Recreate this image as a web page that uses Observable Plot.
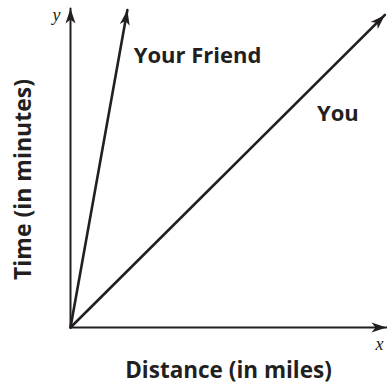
<!DOCTYPE html>
<html>
<head>
<meta charset="utf-8">
<script src="https://cdn.jsdelivr.net/npm/d3@7"></script>
<script src="https://cdn.jsdelivr.net/npm/@observablehq/plot@0.6"></script>
<style>
  html, body { margin: 0; padding: 0; background: #fff; }
  #chart svg { display: block; }
</style>
</head>
<body>
<div id="chart"></div>
<script>
// Data (arbitrary units; the original has no numeric ticks)
const series = ["Your Friend", "You"];
const endX = [1.8, 9.95];
const endY = [9.95, 9.8];
const labelX = [2.0, 7.8];
const labelY = [8.5, 6.7];
const axisMax = 10;
const xTitle = "Distance (in miles)";
const yTitle = "Time (in minutes)";

const ink = "#231f20";

function arrowHead() {
  const m = d3.create("svg:marker")
    .attr("viewBox", "-16 -6 17 12")
    .attr("refX", 0).attr("refY", 0)
    .attr("markerUnits", "userSpaceOnUse")
    .attr("markerWidth", 17).attr("markerHeight", 12)
    .attr("orient", "auto");
  m.append("path")
    .attr("d", "M-15,-5L0,0L-15,5L-11,0Z")
    .attr("fill", ink)
    .attr("stroke", "none");
  return m.node();
}

const lines = [];
series.forEach((s, i) => {
  lines.push({s, x: 0, y: 0});
  lines.push({s, x: endX[i], y: endY[i]});
});
const axes = [
  {a: "x", x: 0, y: 0}, {a: "x", x: axisMax, y: 0},
  {a: "y", x: 0, y: 0}, {a: "y", x: 0, y: axisMax}
];
const labels = series.map((s, i) => ({s, x: labelX[i], y: labelY[i]}));

const plot = Plot.plot({
  width: 387,
  height: 385,
  marginLeft: 70,
  marginRight: 1,
  marginTop: 8,
  marginBottom: 58,
  x: {domain: [0, axisMax], axis: null},
  y: {domain: [0, axisMax], axis: null},
  style: {fontFamily: "'Open Sans', sans-serif", color: ink, background: "#fff"},
  marks: [
    Plot.line(axes, {x: "x", y: "y", z: "a", stroke: ink, strokeWidth: 2, markerEnd: arrowHead}),
    Plot.line(lines, {x: "x", y: "y", z: "s", stroke: ink, strokeWidth: 2.6, markerEnd: arrowHead}),
    Plot.text(labels, {x: "x", y: "y", text: "s", textAnchor: "start", lineAnchor: "middle",
      fontSize: 22, fontWeight: "bold", fill: ink}),
    Plot.text([xTitle], {frameAnchor: "bottom", textAnchor: "middle", lineAnchor: "middle", dy: 43, text: d => d, fontSize: 22.5, fontWeight: "bold", fill: ink}),
    Plot.text([yTitle], {frameAnchor: "left", textAnchor: "middle", lineAnchor: "middle", dx: -47, dy: 11.5, rotate: -90, text: d => d, fontSize: 23, fontWeight: "bold", fill: ink}),
    Plot.text(["x"], {frameAnchor: "bottom-right", textAnchor: "end", lineAnchor: "middle", dx: -3, dy: 17, text: d => d, fontSize: 18, fontStyle: "italic", fontFamily: "'Liberation Serif', serif", fill: ink}),
    Plot.text(["y"], {frameAnchor: "top-left", textAnchor: "start", lineAnchor: "middle", dx: -18, dy: 7, text: d => d, fontSize: 18, fontStyle: "italic", fontFamily: "'Liberation Serif', serif", fill: ink})
  ]
});
document.getElementById("chart").append(plot);
</script>
</body>
</html>
